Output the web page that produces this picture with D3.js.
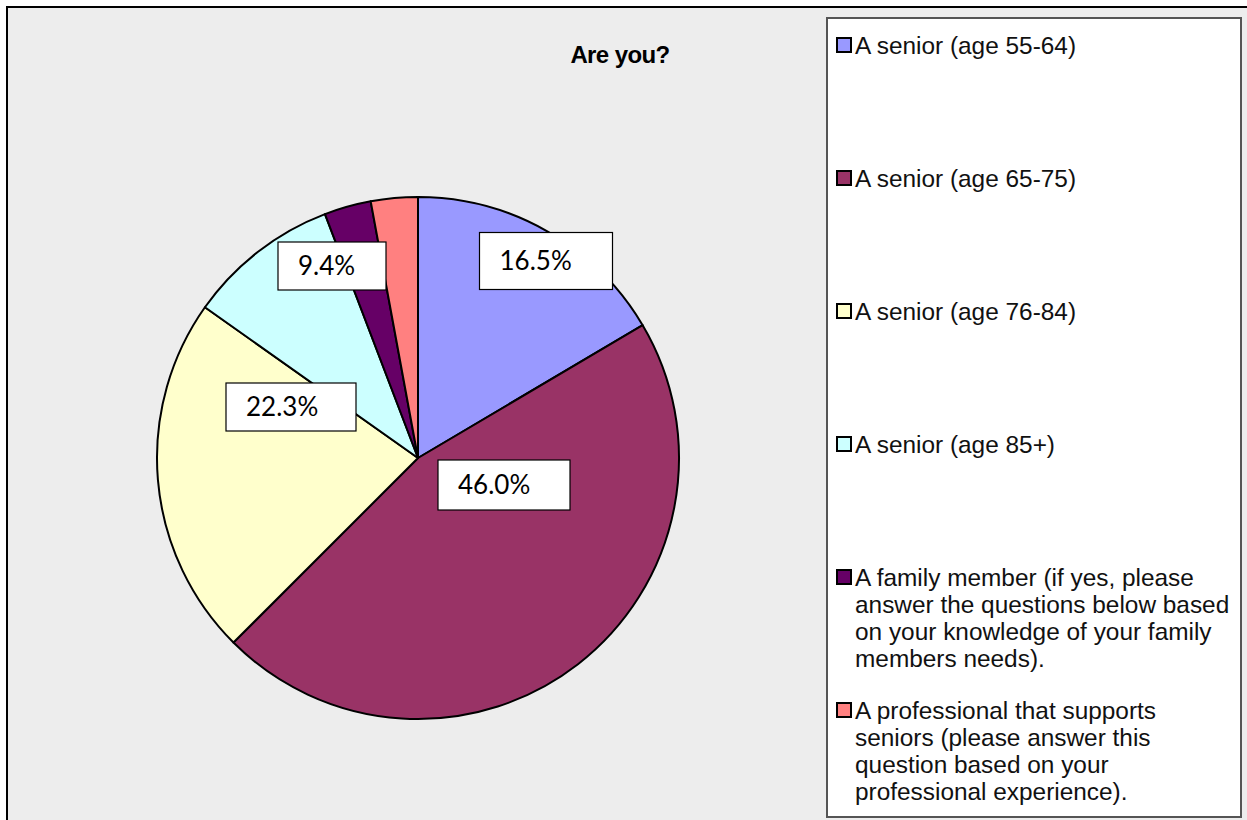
<!DOCTYPE html>
<html>
<head>
<meta charset="utf-8">
<script src="https://d3js.org/d3.v7.min.js"></script>
<style>
  body { margin: 0; background: #fff; }
  svg { display: block; }
</style>
</head>
<body>
<div id="chart"></div>
<script>
  // data
  var categories = [
    "A senior (age 55-64)",
    "A senior (age 65-75)",
    "A senior (age 76-84)",
    "A senior (age 85+)",
    "A family member (if yes, please answer the questions below based on your knowledge of your family members needs).",
    "A professional that supports seniors (please answer this question based on your professional experience)."
  ];
  var legendLines = [
    ["A senior (age 55-64)"],
    ["A senior (age 65-75)"],
    ["A senior (age 76-84)"],
    ["A senior (age 85+)"],
    ["A family member (if yes, please", "answer the questions below based", "on your knowledge of your family", "members needs)."],
    ["A professional that supports", "seniors (please answer this", "question based on your", "professional experience)."]
  ];
  var values = [16.5, 46.0, 22.3, 9.4, 2.9, 2.9];
  var shownLabels = ["16.5%", "46.0%", "22.3%", "9.4%", null, null];
  var colors = ["#9999FF", "#993366", "#FFFFCC", "#CCFFFF", "#660066", "#FF8080"];

  // layout of the moved data label boxes (center offset from pie center, size)
  var labelBoxes = [
    { dx: 128, dy: -197, w: 133, h: 57 },
    { dx: 86, dy: 27, w: 132, h: 50 },
    { dx: -127, dy: -51, w: 130, h: 48 },
    { dx: -86, dy: -192, w: 108, h: 48 },
    null, null
  ];

  var W = 1247, H = 820;
  var cx = 418, cy = 458, radius = 261;

  var svg = d3.select("#chart").append("svg")
    .attr("width", W).attr("height", H);

  // chart area background + frame
  svg.append("rect")
    .attr("x", 7).attr("y", 7)
    .attr("width", W + 10).attr("height", H + 10)
    .attr("fill", "#EDEDED")
    .attr("stroke", "#000").attr("stroke-width", 2);

  // title
  svg.append("text")
    .attr("x", 620).attr("y", 63)
    .attr("text-anchor", "middle")
    .style("font-family", "'Liberation Sans', Arial, sans-serif")
    .style("font-weight", "bold")
    .style("font-size", "24px")
    .style("letter-spacing", "-0.6px")
    .text("Are you?");

  var pie = d3.pie().sort(null).value(function (d) { return d; });
  var arc = d3.arc().innerRadius(0).outerRadius(radius);

  var g = svg.append("g").attr("transform", "translate(" + cx + "," + cy + ")");

  g.selectAll("path.slice")
    .data(pie(values))
    .enter().append("path")
    .attr("class", "slice")
    .attr("d", arc)
    .attr("fill", function (d, i) { return colors[i]; })
    .attr("stroke", "#000")
    .attr("stroke-width", 2)
    .attr("stroke-linejoin", "round");

  // data labels
  var lab = g.selectAll("g.lab")
    .data(shownLabels.map(function (t, i) { return { t: t, b: labelBoxes[i] }; }).filter(function (d) { return d.t; }))
    .enter().append("g")
    .attr("class", "lab")
    .attr("transform", function (d) { return "translate(" + (d.b.dx - d.b.w / 2) + "," + (d.b.dy - d.b.h / 2) + ")"; });

  lab.append("rect")
    .attr("width", function (d) { return d.b.w; })
    .attr("height", function (d) { return d.b.h; })
    .attr("fill", "#fff")
    .attr("stroke", "#000")
    .attr("stroke-width", 1.2);

  lab.append("text")
    .attr("x", 20)
    .attr("y", function (d) { return d.b.h / 2 + 9; })
    .style("font-family", "Lato, 'Open Sans', sans-serif")
    .style("font-size", "26px")
    .attr("fill", "#000")
    .text(function (d) { return d.t; });

  // legend
  var lx = 827, ly = 18, lw = 414, lh = 799;
  svg.append("rect")
    .attr("x", lx).attr("y", ly).attr("width", lw).attr("height", lh)
    .attr("fill", "#fff")
    .attr("stroke", "#555").attr("stroke-width", 2);

  var legendY = d3.scalePoint()
    .domain(d3.range(categories.length))
    .range([45, 710]);

  var item = svg.selectAll("g.legend")
    .data(legendLines)
    .enter().append("g")
    .attr("class", "legend")
    .attr("transform", function (d, i) { return "translate(" + lx + "," + legendY(i) + ")"; });

  item.append("rect")
    .attr("x", 10).attr("y", -7)
    .attr("width", 14).attr("height", 14)
    .attr("fill", function (d, i) { return colors[i]; })
    .attr("stroke", "#000").attr("stroke-width", 2);

  item.append("text")
    .style("font-family", "'Liberation Sans', Arial, sans-serif")
    .style("font-size", "24.4px")
    .attr("fill", "#111")
    .selectAll("tspan")
    .data(function (d) { return d; })
    .enter().append("tspan")
    .attr("x", 28)
    .attr("y", function (d, j) { return 9 + j * 27; })
    .text(function (d) { return d; });
</script>
</body>
</html>
